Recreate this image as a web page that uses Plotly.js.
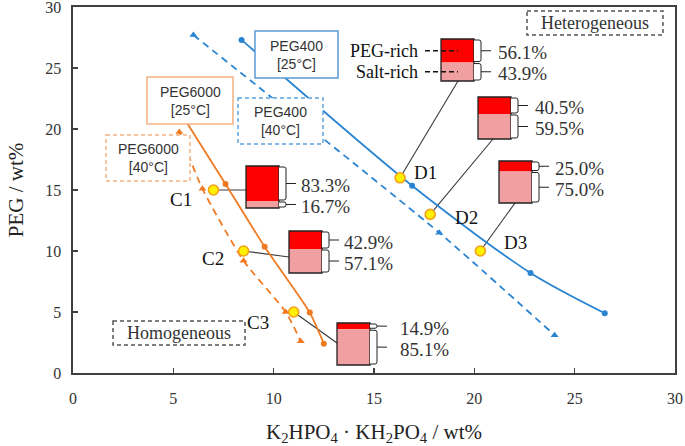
<!DOCTYPE html>
<html><head><meta charset="utf-8">
<script src="https://cdn.plot.ly/plotly-3.0.1.min.js"></script>
<style>html,body{margin:0;padding:0;background:#fff}#chart{width:685px;height:446px}</style>
</head><body><div id="chart"></div>
<script>
// ---------- data ----------
const peg400_25_x = [8.4, 16.9, 22.8, 26.5];
const peg400_25_y = [27.3, 15.35, 8.2, 4.9];
const peg400_40_x = [6.0, 18.25, 24.0];
const peg400_40_y = [27.7, 11.5, 3.1];
const peg6000_25_x = [5.3, 7.6, 9.55, 11.8, 12.5];
const peg6000_25_y = [21.5, 15.5, 10.35, 4.95, 2.4];
const peg6000_40_x = [5.3, 6.45, 8.5, 10.6, 11.35];
const peg6000_40_y = [19.75, 15.1, 9.2, 5.0, 2.6];
const sampleNames = ['C1', 'C2', 'C3', 'D1', 'D2', 'D3'];
const sampleX = [7.0, 8.5, 11.0, 16.3, 17.8, 20.3];
const sampleY = [15.0, 10.0, 5.0, 16.0, 13.0, 10.0];
const pegRichPct = [83.3, 42.9, 14.9, 56.1, 40.5, 25.0];
const saltRichPct = [16.7, 57.1, 85.1, 43.9, 59.5, 75.0];
const tickVals = [0, 5, 10, 15, 20, 25, 30];
const seriesNames = ['PEG400<br>[25°C]', 'PEG400<br>[40°C]', 'PEG6000<br>[25°C]', 'PEG6000<br>[40°C]'];

// ---------- layout geometry (pixels) ----------
const W = 685, H = 446, M = {l: 73, r: 10, t: 7, b: 73};
const xRange = [0, 30], yRange = [0, 30];
const PX = (W - M.l - M.r) / (xRange[1] - xRange[0]);
const PY = (H - M.t - M.b) / (yRange[1] - yRange[0]);
const dx = p => (p - M.l) / PX + xRange[0];
const dy = p => (H - M.b - p) / PY + yRange[0];

const glyphLeftPx = [246, 289, 337, 441, 478, 499];
const glyphTopPx  = [166, 231, 323, 39, 97, 161];
const GW = 33, GH = 42;
const connEndPx = [[0, 24], [0, 26], [0, 20], [17, 42], [15, 42], [16, 42]];
const textDxPx = [20, 20, 28, 22, 22, 21];
const labelPosPx = [[181, 199], [213, 258], [258, 322], [425, 172], [466, 217], [515, 242]];
const boxPx = [
  {x0: 255, x1: 338, y0: 31, y1: 78, color: '#5B9BD5', dash: 'solid'},
  {x0: 238, x1: 323, y0: 98, y1: 144, color: '#5BA3E0', dash: '4px,3px'},
  {x0: 147, x1: 233, y0: 77, y1: 124, color: '#F4B183', dash: 'solid'},
  {x0: 106, x1: 190, y0: 135, y1: 181, color: '#F4B183', dash: '4px,3px'}
];

const COL_BLUE = '#2A84D2', COL_ORANGE = '#F07A22';

// ---------- traces ----------
const lineCommon = {type: 'scatter', mode: 'lines+markers', hoverinfo: 'skip', showlegend: false};
const traces = [
  Object.assign({}, lineCommon, {x: peg400_25_x, y: peg400_25_y,
    line: {color: COL_BLUE, width: 1.8, shape: 'spline', smoothing: 0.8},
    marker: {symbol: 'circle', size: 6, color: COL_BLUE}}),
  Object.assign({}, lineCommon, {x: peg400_40_x, y: peg400_40_y,
    line: {color: COL_BLUE, width: 1.8, dash: '7px,5px', shape: 'spline', smoothing: 0.6},
    marker: {symbol: 'triangle-up', size: 7, color: COL_BLUE}}),
  Object.assign({}, lineCommon, {x: peg6000_25_x, y: peg6000_25_y,
    line: {color: COL_ORANGE, width: 1.8, shape: 'spline', smoothing: 0.6},
    marker: {symbol: 'circle', size: 6, color: COL_ORANGE}}),
  Object.assign({}, lineCommon, {x: peg6000_40_x, y: peg6000_40_y,
    line: {color: COL_ORANGE, width: 1.8, dash: '7px,5px', shape: 'spline', smoothing: 0.6},
    marker: {symbol: 'triangle-up', size: 7, color: COL_ORANGE}}),
  {type: 'scatter', mode: 'markers', x: sampleX, y: sampleY, hoverinfo: 'skip', showlegend: false,
    marker: {symbol: 'circle', size: 10, color: '#FFF000', line: {color: '#F5A01A', width: 1.6}}}
];

// ---------- shapes & annotations ----------
const shapes = [];
const annotations = [];
const serif = 'Liberation Serif, Times New Roman, serif';

sampleNames.forEach((nm, i) => {
  const L = glyphLeftPx[i], T = glyphTopPx[i], R = L + GW, B = T + GH;
  const Mid = T + GH * pegRichPct[i] / 100;
  shapes.push({type: 'line', layer: 'below', xref: 'x', yref: 'y',
    x0: sampleX[i], y0: sampleY[i], x1: dx(L + connEndPx[i][0]), y1: dy(T + connEndPx[i][1]),
    line: {color: '#3a3a3a', width: 1.1}});
  shapes.push({type: 'rect', layer: 'above', xref: 'x', yref: 'y', x0: dx(L), x1: dx(R), y0: dy(T), y1: dy(Mid),
    fillcolor: '#FF0000', line: {width: 0}});
  shapes.push({type: 'rect', layer: 'above', xref: 'x', yref: 'y', x0: dx(L), x1: dx(R), y0: dy(Mid), y1: dy(B),
    fillcolor: '#F0A0A0', line: {width: 0}});
  shapes.push({type: 'rect', layer: 'above', xref: 'x', yref: 'y', x0: dx(L), x1: dx(R), y0: dy(T), y1: dy(B),
    fillcolor: 'rgba(0,0,0,0)', line: {color: '#222', width: 1.3}});
  [[T, Mid, pegRichPct[i]], [Mid, B, saltRichPct[i]]].forEach(([a, b, v]) => {
    const a1 = a + 1, b1 = b - 1, r2 = R + 7;
    const path = `M ${dx(R)},${dy(a1)} L ${dx(r2 - 2)},${dy(a1)} Q ${dx(r2)},${dy(a1)} ${dx(r2)},${dy(Math.min(a1 + 2, (a1 + b1) / 2))} ` +
      `L ${dx(r2)},${dy(Math.max(b1 - 2, (a1 + b1) / 2))} Q ${dx(r2)},${dy(b1)} ${dx(r2 - 2)},${dy(b1)} L ${dx(R)},${dy(b1)}`;
    shapes.push({type: 'path', layer: 'above', xref: 'x', yref: 'y', path: path,
      fillcolor: '#fff', line: {color: '#222', width: 1}});
    const m = (a + b) / 2;
    shapes.push({type: 'line', layer: 'above', xref: 'x', yref: 'y', x0: dx(r2), x1: dx(r2 + 10), y0: dy(m), y1: dy(m),
      line: {color: '#222', width: 1}});
    annotations.push({xref: 'x', yref: 'y', x: dx(R + textDxPx[i]), y: dy(m + 2), text: v.toFixed(1) + '%',
      showarrow: false, xanchor: 'left', yanchor: 'middle', font: {family: serif, size: 19, color: '#333'}});
  });
  annotations.push({xref: 'x', yref: 'y', x: dx(labelPosPx[i][0]), y: dy(labelPosPx[i][1]), text: nm,
    showarrow: false, xanchor: 'center', yanchor: 'middle', font: {family: serif, size: 19, color: '#111'}});
});

boxPx.forEach((b, i) => {
  shapes.push({type: 'rect', layer: 'above', xref: 'x', yref: 'y', x0: dx(b.x0), x1: dx(b.x1), y0: dy(b.y0), y1: dy(b.y1),
    fillcolor: '#fff', line: {color: b.color, width: 1.5, dash: b.dash}});
  annotations.push({xref: 'x', yref: 'y', x: dx((b.x0 + b.x1) / 2), y: dy((b.y0 + b.y1) / 2), text: seriesNames[i],
    showarrow: false, xanchor: 'center', yanchor: 'middle',
    font: {family: 'Liberation Sans, Arial, sans-serif', size: 14, color: '#333'}});
});

const regionBoxes = [
  {x0: 527, x1: 663, y0: 11, y1: 35, text: 'Heterogeneous'},
  {x0: 113, x1: 245, y0: 321, y1: 345, text: 'Homogeneous'}
];
regionBoxes.forEach(b => {
  shapes.push({type: 'rect', layer: 'above', xref: 'x', yref: 'y', x0: dx(b.x0), x1: dx(b.x1), y0: dy(b.y0), y1: dy(b.y1),
    fillcolor: '#fff', line: {color: '#555', width: 1.5, dash: '4px,3px'}});
  annotations.push({xref: 'x', yref: 'y', x: dx((b.x0 + b.x1) / 2), y: dy((b.y0 + b.y1) / 2), text: b.text,
    showarrow: false, xanchor: 'center', yanchor: 'middle', font: {family: serif, size: 18, color: '#333'}});
});

const d1 = 3;
const d1Mid = glyphTopPx[d1] + GH * pegRichPct[d1] / 100;
[['PEG-rich', (glyphTopPx[d1] + d1Mid) / 2], ['Salt-rich', (d1Mid + glyphTopPx[d1] + GH) / 2]].forEach(([t, yp]) => {
  annotations.push({xref: 'x', yref: 'y', x: dx(420), y: dy(yp), text: t, showarrow: false,
    xanchor: 'right', yanchor: 'middle', font: {family: serif, size: 18, color: '#111'}});
  shapes.push({type: 'line', layer: 'above', xref: 'x', yref: 'y', x0: dx(425), x1: dx(glyphLeftPx[d1] + 17), y0: dy(yp), y1: dy(yp),
    line: {color: '#111', width: 1.5, dash: '5px,3px'}});
});

const axisCommon = {
  tickvals: tickVals, ticks: 'inside', ticklen: 5, tickwidth: 1.3, tickcolor: '#404040',
  showline: true, linecolor: '#404040', linewidth: 1.6, mirror: true, showgrid: false, zeroline: false,
  ticklabeloverflow: 'allow', tickfont: {family: serif, size: 16, color: '#333'}
};

const layout = {
  width: W, height: H, margin: M, paper_bgcolor: '#fff', plot_bgcolor: '#fff', showlegend: false,
  xaxis: Object.assign({}, axisCommon, {range: xRange, ticklabelstandoff: 10,
    title: {text: 'K<sub>2</sub>HPO<sub>4</sub> · KH<sub>2</sub>PO<sub>4</sub> / wt%', standoff: 18,
      font: {family: serif, size: 21, color: '#222'}}}),
  yaxis: Object.assign({}, axisCommon, {range: yRange, ticklabelstandoff: 7,
    title: {text: 'PEG / wt%', standoff: 16, font: {family: serif, size: 21, color: '#222'}}}),
  shapes: shapes, annotations: annotations
};

Plotly.newPlot('chart', traces, layout, {displayModeBar: false, staticPlot: true});
</script></body></html>
